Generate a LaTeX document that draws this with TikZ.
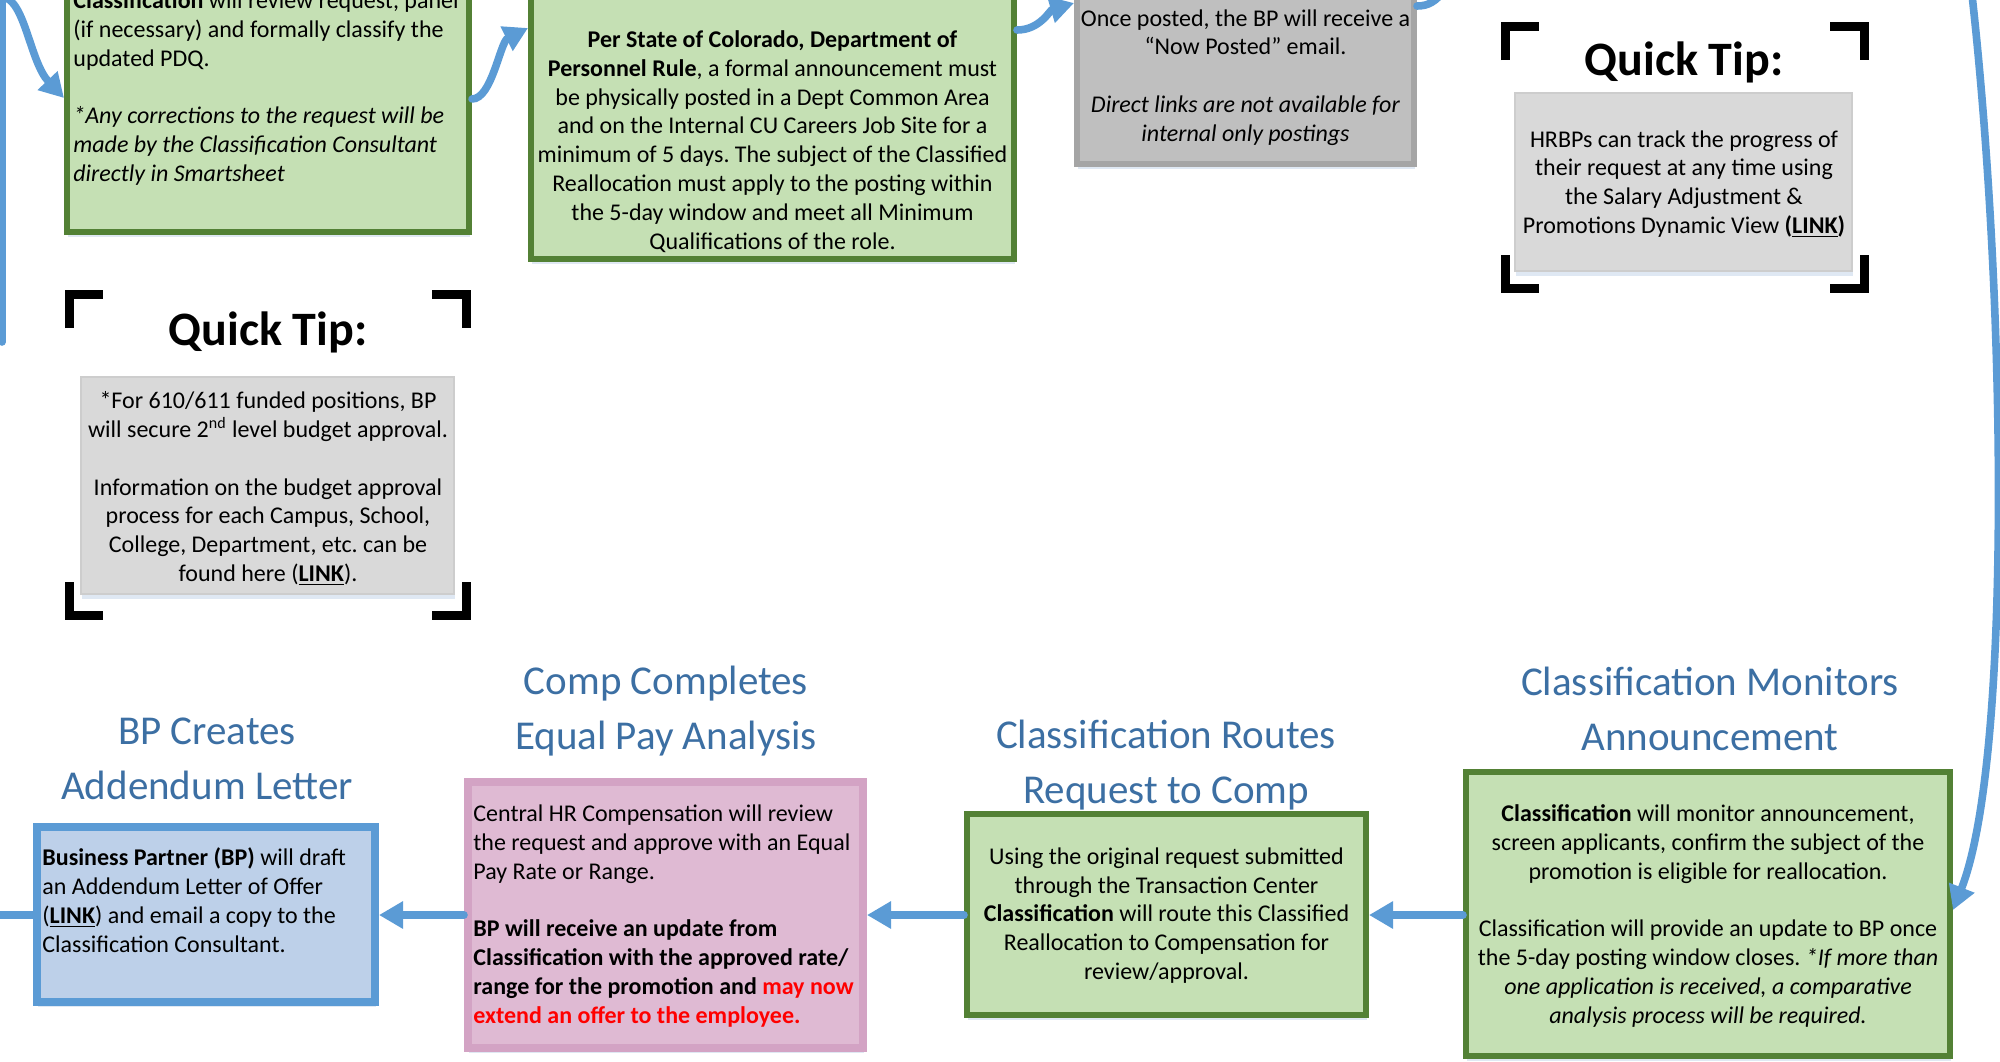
\documentclass[tikz,border=0pt]{standalone}
\usepackage{fontspec}
\setmainfont{Carlito}
\frenchspacing
\usetikzlibrary{arrows.meta,fit,shadows}
\definecolor{gfill}{HTML}{C5E0B4}
\definecolor{gline}{HTML}{538135}
\definecolor{bfill}{HTML}{BDD0E9}
\definecolor{bline}{HTML}{5B9BD5}
\definecolor{pfill}{HTML}{DFBAD3}
\definecolor{pline}{HTML}{D3A3C4}
\definecolor{gyfill}{HTML}{BFBFBF}
\definecolor{gyline}{HTML}{A5A5A5}
\definecolor{qtfill}{HTML}{D9D9D9}
\definecolor{qtline}{HTML}{CDCDCD}
\definecolor{arr}{HTML}{5B9BD5}
\definecolor{head}{HTML}{3C6FA3}
\definecolor{shad}{HTML}{DCE5F2}
\begin{document}
\begin{tikzpicture}[x=0.5pt,y=-0.5pt,
  shad/.style={drop shadow={fill=shad, shadow xshift=0.5pt, shadow yshift=-2.5pt, opacity=0.9}},
  greenbox/.style={draw=gline, fill=gfill, line width=3pt, inner sep=0pt, shad},
  bluebox/.style={draw=bline, fill=bfill, line width=4pt, inner sep=0pt, shad},
  pinkbox/.style={draw=pline, fill=pfill, line width=4pt, inner sep=0pt, shad},
  graybox/.style={draw=gyline, fill=gyfill, line width=3pt, inner sep=0pt, shad},
  tipbox/.style={draw=qtline, fill=qtfill, line width=0.6pt, inner sep=0pt, shad},
  body/.style={font=\fontsize{12}{14.4}\selectfont, inner sep=0pt, text=black},
  heading/.style={font=\fontsize{20.5}{27.5}\selectfont, text=head, align=center, inner sep=0pt},
  tiptitle/.style={font=\fontsize{24}{28}\selectfont\bfseries, inner sep=0pt},
  flowline/.style={draw=arr, line width=3.8pt, line cap=round},
  flow/.style={flowline, -{Triangle[length=12pt,width=13pt]}},
  bracket/.style={draw=black, line width=4.5pt, line cap=butt, line join=miter}
]
\useasboundingbox (0,0) rectangle (2000,1061);
\clip (0,0) rectangle (2000,1061);

% helper coordinates for connector heights
\coordinate (y3) at (0,3);
\coordinate (y6) at (0,6);
\coordinate (y28) at (0,28);
\coordinate (y30) at (0,30);
\coordinate (y98) at (0,98);
\coordinate (y99) at (0,99);
\coordinate (y910) at (0,910);
\coordinate (yline) at (0,915);

% ---------- top row boxes ----------
\node[greenbox, fit={(67,-60) (469,232)}] (b1) {};
\node[body, align=left, anchor=west] (t1) at (73,88.5)
 {\textbf{Classification} will review request, panel\\
  (if necessary) and formally classify the\\
  updated PDQ.\\[14.4pt]
  \textit{*Any corrections to the request will be}\\
  \textit{made by the Classification Consultant}\\
  \textit{directly in Smartsheet}};

\node[greenbox, fit={(531,-60) (1014,259)}] (b2) {};
\node[body, align=center] (t2) at (772.5,141.5)
 {\textbf{Per State of Colorado, Department of}\\
  \textbf{Personnel Rule}, a formal announcement must\\
  be physically posted in a Dept Common Area\\
  and on the Internal CU Careers Job Site for a\\
  minimum of 5 days. The subject of the Classified\\
  Reallocation must apply to the posting within\\
  the 5-day window and meet all Minimum\\
  Qualifications of the role.};

\node[graybox, fit={(1077,-40) (1414,164)}] (b3) {};
\node[body, align=center] (t3) at (1245.5,77.5)
 {Once posted, the BP will receive a\\
  “Now Posted” email.\\[14.4pt]
  \textit{Direct links are not available for}\\
  \textit{internal only postings}};

% ---------- quick tip 1 ----------
\node[tiptitle, anchor=base] (q1t) at (1684,75) {Quick Tip:};
\node[tipbox, fit={(1515,93) (1852,271)}] (q1) {};
\node[body, align=center] (q1x) at (1684,184)
 {HRBPs can track the progress of\\
  their request at any time using\\
  the Salary Adjustment \&\\
  Promotions Dynamic View \textbf{(\underline{LINK})}};
\draw[bracket] (1505.5,60) -- (1505.5,26.5) -- (1539,26.5);
\draw[bracket] (1830,26.5) -- (1864,26.5) -- (1864,60);
\draw[bracket] (1505.5,255) -- (1505.5,288.5) -- (1539,288.5);
\draw[bracket] (1830,288.5) -- (1864,288.5) -- (1864,255);

% ---------- quick tip 2 ----------
\node[tiptitle, anchor=base] (q2t) at (268,345) {Quick Tip:};
\node[tipbox, fit={(81,377) (454,594)}] (q2) {};
\node[body, align=center] (q2x) at (268,488.5)
 {*For 610/611 funded positions, BP\\
  will secure 2\textsuperscript{nd} level budget approval.\\[14.4pt]
  Information on the budget approval\\
  process for each Campus, School,\\
  College, Department, etc. can be\\
  found here (\textbf{\underline{LINK}}).};
\draw[bracket] (69.5,328) -- (69.5,294.5) -- (103,294.5);
\draw[bracket] (432,294.5) -- (466,294.5) -- (466,328);
\draw[bracket] (69.5,582) -- (69.5,615.5) -- (103,615.5);
\draw[bracket] (432,615.5) -- (466,615.5) -- (466,582);

% ---------- bottom row ----------
\node[heading] (h1) at (207,759) {BP Creates\\Addendum Letter};
\node[heading] (h2) at (666,711) {Comp Completes\\Equal Pay Analysis};
\node[heading] (h3) at (1166,765) {Classification Routes\\Request to Comp};
\node[heading] (h4) at (1710,709) {Classification Monitors\\Announcement};

\node[bluebox, fit={(37,827) (375,1002)}] (b0) {};
\node[body, align=left, anchor=west] (t0) at (42,900)
 {\textbf{Business Partner (BP)} will draft\\
  an Addendum Letter of Offer\\
  (\textbf{\underline{LINK}}) and email a copy to the\\
  Classification Consultant.};

\node[pinkbox, fit={(468,782) (863,1048)}] (bc) {};
\node[body, align=left, anchor=west] (tc) at (473,916)
 {Central HR Compensation will review\\
  the request and approve with an Equal\\
  Pay Rate or Range.\\[14.4pt]
  \textbf{BP will receive an update from}\\
  \textbf{Classification with the approved rate/}\\
  \textbf{range for the promotion and \textcolor{red}{may now}}\\
  \textbf{\textcolor{red}{extend an offer to the employee.}}};

\node[greenbox, fit={(967,814) (1366,1015)}] (br) {};
\node[body, align=center] (tr) at (1166.5,915.5)
 {Using the original request submitted\\
  through the Transaction Center\\
  \textbf{Classification} will route this Classified\\
  Reallocation to Compensation for\\
  review/approval.};

\node[greenbox, fit={(1466,772) (1950,1056)}] (bm) {};
\node[body, align=center] (tm) at (1708,916)
 {\textbf{Classification} will monitor announcement,\\
  screen applicants, confirm the subject of the\\
  promotion is eligible for reallocation.\\[14.4pt]
  Classification will provide an update to BP once\\
  the 5-day posting window closes. \textit{*If more than}\\
  \textit{one application is received, a comparative}\\
  \textit{analysis process will be required.}};

% ---------- connectors ----------
\coordinate (cL1) at (2,-5);
\coordinate (cL2) at (2,342);
\coordinate (cS) at (3,-3);
\coordinate (cOut) at (1446,-12);
\coordinate (cTop) at (1972,-5);
\coordinate (cLeft) at (-8,915);

\draw[flowline] (cL1) -- (cL2);
\draw[flow] (cS) .. controls (25,0) and (30,62) .. (b1.west |- y98);
\draw[flow] (b1.east |- y99) .. controls (492,99) and (500,42) .. (b2.west |- y28);
\draw[flow] (b2.east |- y30) .. controls (1040,30) and (1050,10) .. (b3.west |- y3);
\draw[flowline] (b3.east |- y6) .. controls (1428,6) and (1436,2) .. (cOut);
\draw[flow] (cTop) .. controls (2006,300) and (2012,760) .. (bm.east |- y910);
\draw[flow] (bm.west |- yline) -- (br.east |- yline);
\draw[flow] (br.west |- yline) -- (bc.east |- yline);
\draw[flow] (bc.west |- yline) -- (b0.east |- yline);
\draw[flowline] (b0.west |- yline) -- (cLeft);
\end{tikzpicture}
\end{document}
